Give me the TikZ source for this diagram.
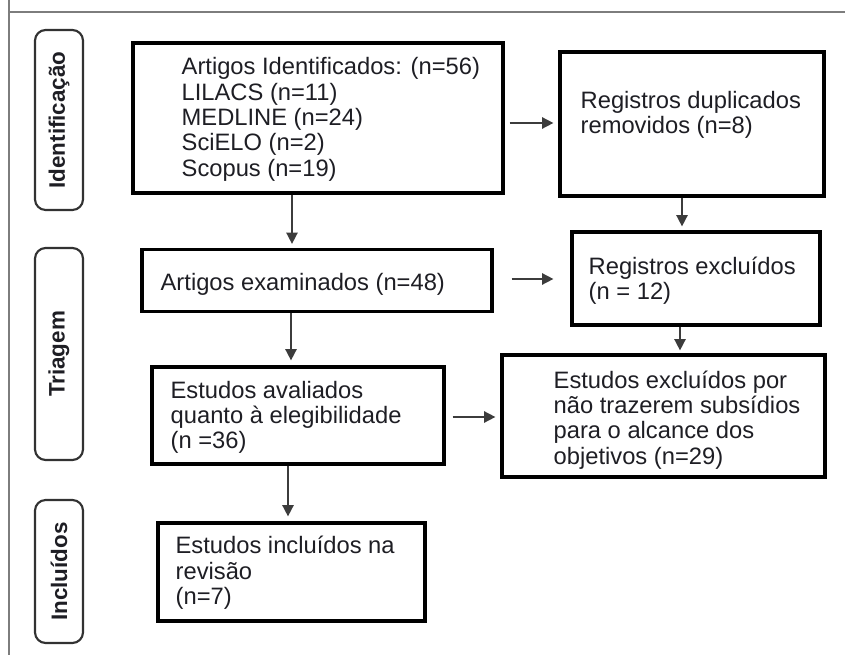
\documentclass[tikz,border=0pt]{standalone}
\usepackage{fontspec}
\setmainfont{Liberation Sans}
\usetikzlibrary{arrows.meta,calc}
\newcommand\pxu{0.75pt}
\begin{document}
\begin{tikzpicture}[x=0.75pt,y=-0.75pt,
caixa/.style={draw=black,line width=2.4pt,inner sep=0pt},
texto/.style={anchor=west,align=left,inner sep=0pt,text=textcor,font=\fontsize{17.8}{19}\selectfont},
fase/.style={draw=fasecor,line width=1.6pt,rounded corners=8pt,rotate=90,minimum height=48*\pxu,inner sep=0pt,text=textcor,font=\bfseries\fontsize{16.8}{18}\selectfont},
seta/.style={draw=setacor,line width=1.2pt,-{Triangle[length=8.5pt,width=8.5pt]}}]
\definecolor{textcor}{RGB}{30,30,36}
\definecolor{setacor}{RGB}{60,60,60}
\definecolor{fasecor}{RGB}{50,50,50}
\definecolor{moldura}{RGB}{125,125,125}
\useasboundingbox (0,0) rectangle (845,655);
\draw[draw=moldura, line width=1.5pt] (9,0) -- (9,655);
\draw[draw=moldura, line width=1.5pt] (9,12) -- (845,12);
\foreach \nome/\cy/\comp/\rotulo in {ident/120/180/Identificação, triag/354/212/Triagem, inclu/571.5/143/Incluídos} \node[fase, minimum width=\comp*\pxu] (fase\nome) at (59,\cy) {\rotulo};
\node[caixa, minimum width=370*\pxu, minimum height=150*\pxu] (artid) at (318,118) {};
\node[texto] (artidtxt) at ($(artid.west)+(50,1.5)$) {Artigos Identificados: (n=56)\\LILACS (n=11)\\MEDLINE (n=24)\\SciELO (n=2)\\Scopus (n=19)};
\node[caixa, minimum width=264*\pxu, minimum height=144*\pxu] (dupl) at (692,124) {};
\node[texto] (dupltxt) at ($(dupl.west)+(22,-9)$) {Registros duplicados\\removidos (n=8)};
\node[caixa, minimum width=350*\pxu, minimum height=62*\pxu] (examin) at (317,280.5) {};
\node[texto] (examintxt) at ($(examin.west)+(20,3.5)$) {Artigos examinados (n=48)};
\node[caixa, minimum width=248*\pxu, minimum height=93*\pxu] (regexc) at (696,278.5) {};
\node[texto] (regexctxt) at ($(regexc.west)+(18,2)$) {Registros excluídos\\(n = 12)};
\node[caixa, minimum width=292*\pxu, minimum height=97*\pxu] (aval) at (298,415.5) {};
\node[texto] (avaltxt) at ($(aval.west)+(20,2)$) {Estudos avaliados\\quanto à elegibilidade\\(n =36)};
\node[caixa, minimum width=323*\pxu, minimum height=122*\pxu] (excl) at (663.5,416) {};
\node[texto] (excltxt) at ($(excl.west)+(53,4)$) {Estudos excluídos por\\não trazerem subsídios\\para o alcance dos\\objetivos (n=29)};
\node[caixa, minimum width=267*\pxu, minimum height=98*\pxu] (incl) at (291.5,572) {};
\node[texto] (incltxt) at ($(incl.west)+(19,1)$) {Estudos incluídos na\\revisão\\(n=7)};
\draw[seta] ($(artid.south)+(-26,0)$) -- ($(examin.north)+(-25,-4)$);
\draw[seta] ($(artid.east)+(5,5)$) -- ($(dupl.west)+(-5,-1)$);
\draw[seta] ($(dupl.south)+(-10,0)$) -- ($(regexc.north)+(-14,-4)$);
\draw[seta] ($(examin.east)+(18,-1.5)$) -- ($(regexc.west)+(-17,0.5)$);
\draw[seta] ($(examin.south)+(-26,0)$) -- ($(aval.north)+(-7,-5)$);
\draw[seta] ($(regexc.south)+(-16,0)$) -- ($(excl.north)+(16.5,-3)$);
\draw[seta] ($(aval.east)+(7,1.5)$) -- ($(excl.west)+(-5,1)$);
\draw[seta] ($(aval.south)+(-10,0)$) -- ($(incl.north)+(-3.5,-5)$);
\end{tikzpicture}
\end{document}
